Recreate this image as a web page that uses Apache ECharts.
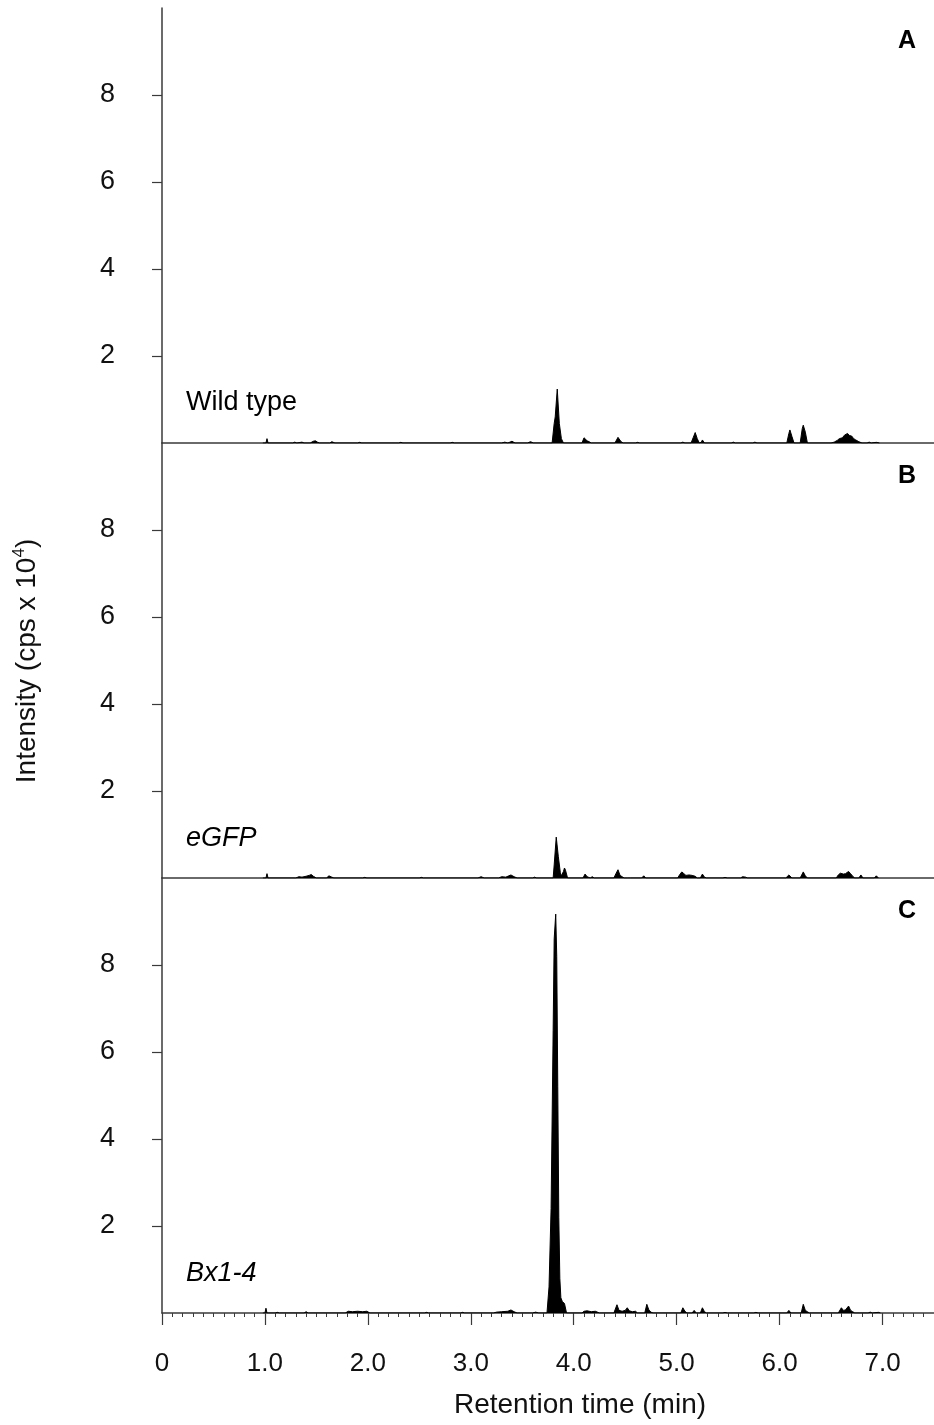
<!DOCTYPE html>
<html>
<head>
<meta charset="utf-8">
<script src="https://cdn.jsdelivr.net/npm/echarts@6.0.0/dist/echarts.min.js"></script>
<style>
  html, body { margin: 0; padding: 0; background: #fff; }
  #chart { width: 934px; height: 1425px; }
</style>
</head>
<body>
<div id="chart"></div>
<script>
// axis ticks
const timeTicks = [0, 1, 2, 3, 4, 5, 6, 7];
const intensityTicks = [2, 4, 6, 8];

// panels
const panelLetters = ['A', 'B', 'C'];
const sampleNames = ['Wild type', 'eGFP', 'Bx1-4'];

// [retention time (min), intensity (cps x 10^4)]
const wildType = [
  [0.98, 0], [1.01, 0], [1.02, 0.10], [1.03, 0],
  [1.27, 0], [1.29, 0.02], [1.31, 0], [1.36, 0.02], [1.38, 0], [1.44, 0], [1.47, 0.04], [1.49, 0.05], [1.51, 0.02], [1.53, 0],
  [1.63, 0], [1.65, 0.03], [1.68, 0],
  [1.90, 0], [1.92, 0.015], [1.94, 0],
  [2.30, 0], [2.32, 0.015], [2.34, 0],
  [2.80, 0], [2.82, 0.015], [2.84, 0],
  [3.30, 0], [3.33, 0.02], [3.36, 0], [3.40, 0.04], [3.43, 0], [3.55, 0], [3.58, 0.03], [3.61, 0],
  [3.79, 0], [3.81, 0.45], [3.82, 0.6], [3.84, 1.24], [3.86, 0.45], [3.88, 0.1], [3.90, 0],
  [4.08, 0], [4.10, 0.12], [4.11, 0.16], [4.13, 0.05], [4.15, 0.03], [4.17, 0],
  [4.40, 0], [4.43, 0.13], [4.46, 0.03], [4.48, 0],
  [4.60, 0], [4.62, 0.015], [4.64, 0],
  [5.04, 0], [5.06, 0.02], [5.08, 0],
  [5.14, 0], [5.16, 0.12], [5.18, 0.24], [5.20, 0.10], [5.22, 0], [5.24, 0.02], [5.25, 0.07], [5.27, 0],
  [5.53, 0], [5.55, 0.02], [5.57, 0],
  [5.74, 0], [5.76, 0.02], [5.78, 0],
  [6.07, 0], [6.09, 0.22], [6.10, 0.30], [6.12, 0.15], [6.14, 0],
  [6.20, 0], [6.22, 0.33], [6.23, 0.41], [6.25, 0.25], [6.27, 0],
  [6.50, 0], [6.53, 0.02], [6.56, 0.06], [6.58, 0.10], [6.61, 0.12], [6.63, 0.18], [6.66, 0.22], [6.68, 0.17], [6.70, 0.16], [6.72, 0.10], [6.74, 0.07], [6.77, 0.03], [6.80, 0],
  [6.85, 0], [6.87, 0.02], [6.89, 0], [6.94, 0.015], [6.97, 0]
];

const eGFP = [
  [0.98, 0], [1.01, 0], [1.02, 0.10], [1.03, 0],
  [1.30, 0], [1.33, 0.03], [1.36, 0.02], [1.40, 0.04], [1.43, 0.06], [1.45, 0.08], [1.47, 0.04], [1.50, 0],
  [1.60, 0], [1.62, 0.05], [1.65, 0.02], [1.67, 0],
  [1.95, 0], [1.97, 0.015], [1.99, 0],
  [2.50, 0], [2.52, 0.015], [2.54, 0],
  [3.07, 0], [3.10, 0.03], [3.13, 0],
  [3.27, 0], [3.30, 0.03], [3.34, 0.02], [3.37, 0.05], [3.39, 0.07], [3.42, 0.03], [3.45, 0],
  [3.60, 0], [3.62, 0.02], [3.64, 0],
  [3.80, 0], [3.81, 0.3], [3.83, 0.94], [3.85, 0.5], [3.87, 0.12], [3.88, 0.05], [3.90, 0.15], [3.91, 0.23], [3.92, 0.18], [3.94, 0],
  [4.09, 0], [4.11, 0.09], [4.13, 0.03], [4.16, 0], [4.18, 0.03], [4.20, 0],
  [4.39, 0], [4.41, 0.10], [4.43, 0.19], [4.45, 0.06], [4.47, 0.03], [4.49, 0],
  [4.52, 0], [4.53, 0.03], [4.55, 0],
  [4.66, 0], [4.68, 0.05], [4.70, 0],
  [5.01, 0], [5.03, 0.08], [5.05, 0.14], [5.07, 0.10], [5.09, 0.06], [5.12, 0.07], [5.15, 0.06], [5.18, 0.04], [5.20, 0],
  [5.23, 0], [5.25, 0.09], [5.27, 0.02], [5.29, 0],
  [5.45, 0], [5.47, 0.015], [5.49, 0],
  [5.62, 0], [5.64, 0.03], [5.67, 0.02], [5.69, 0],
  [6.06, 0], [6.09, 0.07], [6.12, 0],
  [6.20, 0], [6.23, 0.14], [6.25, 0.05], [6.27, 0],
  [6.55, 0], [6.57, 0.07], [6.59, 0.11], [6.62, 0.09], [6.64, 0.10], [6.67, 0.15], [6.69, 0.10], [6.71, 0.04], [6.73, 0],
  [6.77, 0], [6.79, 0.07], [6.81, 0],
  [6.92, 0], [6.94, 0.05], [6.96, 0]
];

const bx14 = [
  [0.98, 0], [1.00, 0], [1.01, 0.11], [1.02, 0],
  [1.10, 0], [1.12, 0.015], [1.14, 0],
  [1.38, 0], [1.40, 0.03], [1.42, 0],
  [1.78, 0], [1.81, 0.04], [1.85, 0.03], [1.90, 0.04], [1.95, 0.03], [1.99, 0.04], [2.02, 0],
  [2.55, 0], [2.57, 0.015], [2.59, 0],
  [2.90, 0], [2.92, 0.015], [2.94, 0],
  [3.22, 0], [3.25, 0.02], [3.30, 0.03], [3.36, 0.04], [3.39, 0.07], [3.42, 0.03], [3.45, 0],
  [3.60, 0], [3.63, 0.02], [3.66, 0],
  [3.74, 0], [3.76, 0.6], [3.78, 2.4], [3.80, 6.5], [3.81, 8.6], [3.825, 9.17], [3.835, 8.2], [3.845, 5.2], [3.855, 2.2], [3.865, 0.8], [3.875, 0.35], [3.89, 0.26], [3.91, 0.22], [3.93, 0],
  [4.08, 0], [4.10, 0.04], [4.13, 0.05], [4.17, 0.03], [4.21, 0.04], [4.25, 0],
  [4.39, 0], [4.42, 0.19], [4.44, 0.06], [4.47, 0.04], [4.50, 0.06], [4.52, 0.12], [4.54, 0.05], [4.57, 0.03], [4.60, 0.04], [4.62, 0],
  [4.69, 0], [4.71, 0.2], [4.73, 0.07], [4.75, 0.02], [4.77, 0],
  [5.04, 0], [5.06, 0.12], [5.08, 0.04], [5.10, 0], [5.15, 0], [5.17, 0.06], [5.19, 0], [5.23, 0], [5.25, 0.12], [5.27, 0.03], [5.29, 0],
  [5.45, 0], [5.47, 0.015], [5.49, 0],
  [5.75, 0], [5.77, 0.015], [5.79, 0],
  [6.07, 0], [6.09, 0.06], [6.11, 0],
  [6.21, 0], [6.23, 0.2], [6.25, 0.06], [6.27, 0.03], [6.29, 0],
  [6.57, 0], [6.60, 0.12], [6.62, 0.06], [6.64, 0.07], [6.67, 0.16], [6.69, 0.06], [6.71, 0.03], [6.73, 0],
  [6.78, 0], [6.79, 0.03], [6.81, 0],
  [6.86, 0], [6.88, 0.02], [6.90, 0], [6.96, 0.015], [6.98, 0]
];

const traces = [wildType, eGFP, bx14];

const FONT = '"Liberation Sans", Arial, sans-serif';
const AXIS_COLOR = '#3a3a3a';

// layout of the three stacked panels
const plotLeft = 162;
const plotWidth = 775;
const panelTop = [8, 443, 878];
const panelHeight = 435;

const chart = echarts.init(document.getElementById('chart'), null, { renderer: 'canvas' });

let grids = [], xAxes = [], yAxes = [], series = [], graphics = [];

for (let i = 0; i < 3; i++) {
  const last = i === 2;
  grids.push({ left: plotLeft, top: panelTop[i], width: plotWidth, height: panelHeight });

  xAxes.push({
    type: 'value',
    gridIndex: i,
    min: 0,
    max: 7.5,
    interval: 1,
    axisLine: { show: true, onZero: false, lineStyle: { color: AXIS_COLOR, width: 1.5 } },
    axisTick: {
      show: last,
      length: 12,
      customValues: timeTicks,
      lineStyle: { color: AXIS_COLOR, width: 1.2 }
    },
    minorTick: { show: last, splitNumber: 10, length: 4, lineStyle: { color: AXIS_COLOR, width: 1 } },
    axisLabel: {
      show: last,
      customValues: timeTicks,
      margin: 38,
      fontSize: 26,
      fontFamily: FONT,
      color: '#111',
      formatter: v => (v === 0 ? '0' : v.toFixed(1))
    },
    splitLine: { show: false }
  });

  yAxes.push({
    type: 'value',
    gridIndex: i,
    min: 0,
    max: 10,
    interval: 2,
    axisLine: { show: true, lineStyle: { color: AXIS_COLOR, width: 1.5 } },
    axisTick: { show: true, length: 10, customValues: intensityTicks, lineStyle: { color: AXIS_COLOR, width: 1.2 } },
    axisLabel: { customValues: intensityTicks, margin: 47, fontSize: 27, fontFamily: FONT, color: '#111' },
    splitLine: { show: false }
  });

  series.push({
    type: 'line',
    xAxisIndex: i,
    yAxisIndex: i,
    data: traces[i],
    symbol: 'none',
    smooth: false,
    lineStyle: { color: '#000', width: 1 },
    areaStyle: { color: '#000', opacity: 1 },
    z: 1
  });

  // panel letter
  graphics.push({
    type: 'text',
    x: 907,
    y: panelTop[i] + 33,
    style: { text: panelLetters[i], font: 'bold 25px ' + FONT, fill: '#000', align: 'center', verticalAlign: 'middle' }
  });

  // sample name
  graphics.push({
    type: 'text',
    x: 186,
    y: panelTop[i] + 395,
    style: {
      text: sampleNames[i],
      font: (i === 0 ? '' : 'italic ') + '27px ' + FONT,
      fill: '#000',
      align: 'left',
      verticalAlign: 'middle'
    }
  });
}

// x axis title
graphics.push({
  type: 'text',
  x: 580,
  y: 1405,
  style: {
    text: 'Retention time (min)',
    font: '28px ' + FONT,
    fill: '#111',
    align: 'center',
    verticalAlign: 'middle'
  }
});

// y axis title with superscript
graphics.push({
  type: 'text',
  x: 27,
  y: 661,
  rotation: Math.PI / 2,
  style: {
    text: '{t|Intensity (cps x 10}{s|4}{t|)}',
    align: 'center',
    verticalAlign: 'middle',
    rich: {
      t: { fontSize: 28, fontFamily: FONT, fill: '#111', lineHeight: 32 },
      s: { fontSize: 17, fontFamily: FONT, fill: '#111', verticalAlign: 'top', lineHeight: 32, padding: [0, 0, 10, 0] }
    }
  }
});

var option = {
  animation: false,
  backgroundColor: '#fff',
  textStyle: { fontFamily: FONT },
  grid: grids,
  xAxis: xAxes,
  yAxis: yAxes,
  series: series,
  graphic: graphics
};

chart.setOption(option);
</script>
</body>
</html>
